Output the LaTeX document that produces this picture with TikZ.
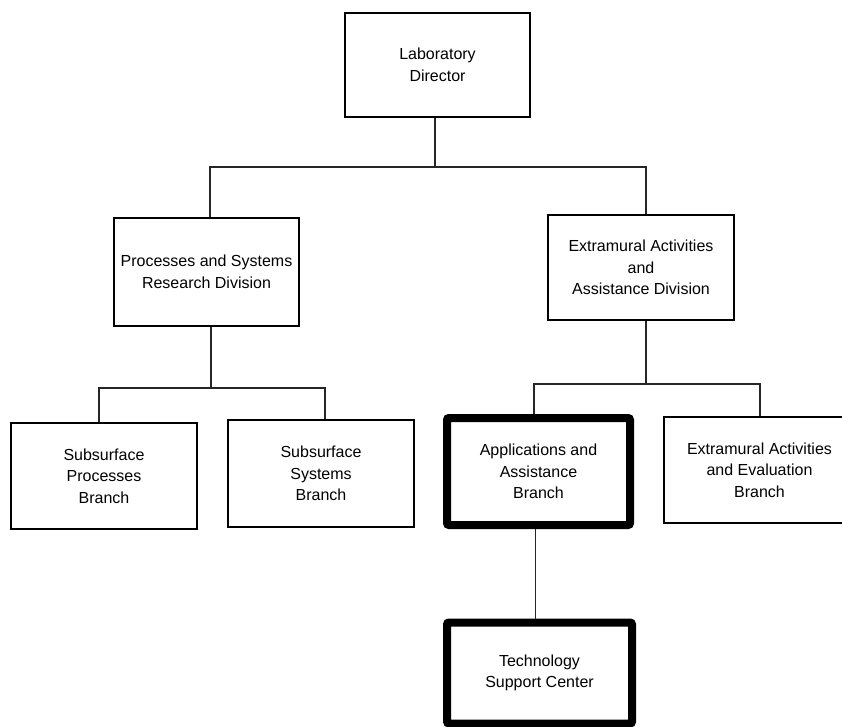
\documentclass[tikz,border=0pt]{standalone}
\usepackage{fontspec}
\setmainfont{Liberation Sans}
\begin{document}
\begin{tikzpicture}[x=1pt,y=-1pt,
  unit/.style={draw=black, line width=1.1pt, fill=white, align=center,
    inner sep=0pt, font=\fontsize{16}{21.5}\selectfont},
  keyunit/.style={unit, line width=8pt, rounded corners=2pt},
  link/.style={draw=black!85, line width=1.1pt}]
\useasboundingbox (0,0) rectangle (842,727);
\clip (0,0) rectangle (842,727);

% top level
\node[unit, minimum width=185pt, minimum height=104pt] (ld) at (437.5,65) {Laboratory\\Director};

% divisions
\node[unit, minimum width=185pt, minimum height=108pt] (psd) at (206.5,272) {Processes and Systems\\Research Division};
\node[unit, minimum width=186pt, minimum height=105pt] (ead) at (641,267.5) {Extramural Activities\\and\\Assistance Division};

% branches
\node[unit, minimum width=186pt, minimum height=106pt] (spb) at (104,476) {Subsurface\\Processes\\Branch};
\node[unit, minimum width=186pt, minimum height=107pt] (ssb) at (321,473.5) {Subsurface\\Systems\\Branch};
\node[keyunit, minimum width=183pt, minimum height=107pt] (aab) at (538.5,471.5) {Applications and\\Assistance\\Branch};
\node[unit, minimum width=191pt, minimum height=106pt] (eeb) at (759.5,470) {Extramural Activities\\and Evaluation\\Branch};

% center
\node[keyunit, minimum width=185pt, minimum height=101pt] (tsc) at (539.5,673) {Technology\\Support Center};

% junction points of the tree
\coordinate (j0) at (435,167);
\coordinate (j1) at (211,388);
\coordinate (j2) at (646,384);

% director to divisions
\draw[link] ([xshift=-2.5pt]ld.south) -- (j0);
\draw[link] ([xshift=3.5pt]psd.north) |- (j0) -| ([xshift=5pt]ead.north);

% processes and systems division to its branches
\draw[link] ([xshift=4.5pt]psd.south) -- (j1);
\draw[link] ([xshift=-5pt]spb.north) |- (j1) -| ([xshift=4pt]ssb.north);

% extramural division to its branches
\draw[link] ([xshift=5pt]ead.south) -- (j2);
\draw[link] ([xshift=-4.5pt]aab.north) |- (j2) -| ([xshift=0.5pt]eeb.north);

% applications branch to the support center
\draw[link] ([xshift=-3pt]aab.south) -- ([xshift=-4pt]tsc.north);
\end{tikzpicture}
\end{document}
